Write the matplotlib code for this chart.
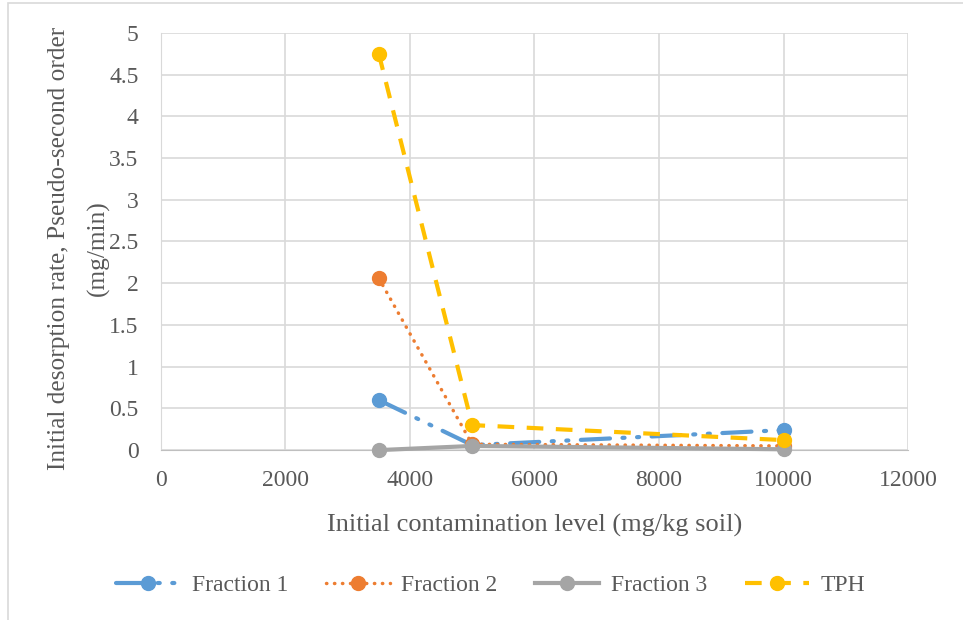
import matplotlib.pyplot as plt
from matplotlib.patches import Rectangle

# data
conc = [3500, 5000, 10000]
fraction1 = [0.60, 0.06, 0.24]
fraction2 = [2.06, 0.07, 0.05]
fraction3 = [0.00, 0.05, 0.01]
tph = [4.75, 0.30, 0.12]

plt.rcParams['font.family'] = ['Liberation Serif', 'DejaVu Serif']
text_col = '#595959'

fig = plt.figure(figsize=(9.63, 6.2), dpi=100)
ax = fig.add_axes([0.167, 0.274, 0.776, 0.673])

ms = 10
ax.plot(conc, fraction1, color='#5b9bd5', lw=3, marker='o', ms=ms, clip_on=False,
        dashes=(7, 3, 0.5, 3, 0.5, 3), dash_capstyle='round', label='Fraction 1', zorder=3)
ax.plot(conc, fraction2, color='#ed7d31', lw=2.5, marker='o', ms=ms, clip_on=False,
        linestyle=(0, (0.1, 2.2)), dash_capstyle='round', label='Fraction 2', zorder=3)
ax.plot(conc, fraction3, color='#a5a5a5', lw=3, marker='o', ms=ms, clip_on=False,
        linestyle='-', label='Fraction 3', zorder=3)
ax.plot(conc, tph, color='#ffc000', lw=3, marker='o', ms=ms, clip_on=False,
        dashes=(4, 3), label='TPH', zorder=4)

ax.set_xlim(0, 12000)
ax.set_ylim(0, 5)
ax.set_xticks(range(0, 12001, 2000))
ax.set_yticks([0, 0.5, 1, 1.5, 2, 2.5, 3, 3.5, 4, 4.5, 5])
ax.set_yticklabels(['0', '0.5', '1', '1.5', '2', '2.5', '3', '3.5', '4', '4.5', '5'])
ax.grid(True, color='#d9d9d9', lw=1.2)
ax.set_axisbelow(True)
for s in ['top', 'right']:
    ax.spines[s].set_visible(False)
ax.spines['left'].set_color('#d9d9d9')
ax.spines['bottom'].set_color('#bfbfbf')
ax.tick_params(length=0, labelsize=17, colors=text_col)
ax.tick_params(axis='x', pad=14)
ax.tick_params(axis='y', pad=16)

ax.set_xlabel('Initial contamination level (mg/kg soil)', fontsize=19, color=text_col, labelpad=17)
fig.text(0.0815, 0.6, 'Initial desorption rate, Pseudo-second order\n(mg/min)', fontsize=18.3,
         color=text_col, rotation=90, ha='center', va='center', multialignment='center',
         linespacing=1.95)

leg = fig.legend(loc='center', bbox_to_anchor=(0.5095, 0.056), ncol=4, frameon=False,
                 fontsize=17, handlelength=2.7, columnspacing=1.6, handletextpad=0.5)
for t in leg.get_texts():
    t.set_color(text_col)

fig.patches.append(Rectangle((8 / 963, -0.1), 1.2, 1.1 - 3 / 620, transform=fig.transFigure,
                             fill=False, edgecolor='#d9d9d9', lw=1.2))

fig.savefig('out.png', dpi=100)
